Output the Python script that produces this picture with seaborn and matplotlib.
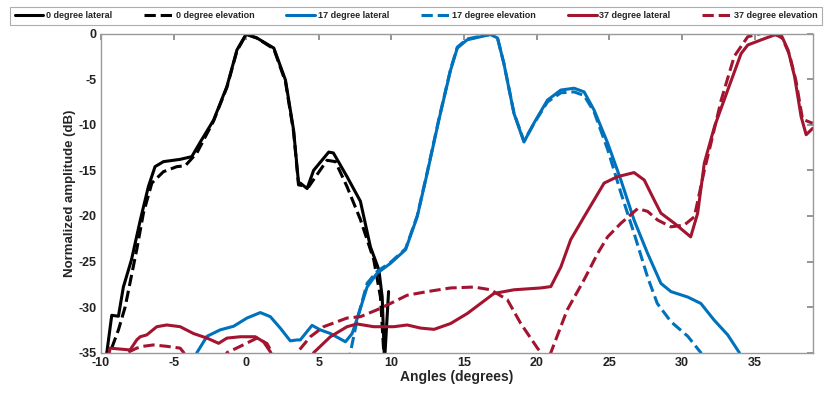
import numpy as np
import pandas as pd
import seaborn as sns
import matplotlib
matplotlib.use("Agg")
import matplotlib.pyplot as plt

# ---- data ----
x0_lat = [-9.7, -9.6, -9.26, -8.8, -8.46, -7.9, -7.3, -6.74, -6.28, -5.7, -4.55, -3.75, -3.2, -2.25, -1.33, -0.64, 0.0, 0.74, 1.9, 2.7, 3.26, 3.6, 3.72, 4.19, 4.64, 5.68, 6.0, 6.94, 7.86, 8.55, 9.13, 9.36, 9.52, 9.8]
y0_lat = [-38, -35, -30.9, -31.0, -27.8, -24.8, -20.5, -16.8, -14.6, -14.05, -13.8, -13.5, -12.0, -9.5, -5.8, -1.8, -0.05, -0.5, -1.6, -5.1, -10.6, -16.4, -16.4, -17.0, -15.0, -13.0, -13.1, -15.7, -18.4, -23.4, -25.9, -28.9, -36.0, -28.3]

x0_ele = [-9.6, -9.38, -8.8, -8.34, -7.54, -7.08, -6.5, -5.7, -4.78, -4.2, -3.4, -2.25, -1.33, -0.64, 0.0, 0.74, 1.9, 2.7, 3.26, 3.6, 4.3, 5.56, 6.14, 6.94, 7.86, 8.78, 9.24, 9.47, 9.6]
y0_ele = [-38, -35, -32.5, -30.0, -23.7, -19.7, -16.4, -15.15, -14.6, -14.5, -13.1, -9.6, -5.9, -1.9, -0.1, -0.5, -1.7, -5.3, -10.8, -16.6, -16.8, -13.9, -14.05, -16.8, -20.4, -24.8, -28.9, -35.0, -38]

x17_lat = [-3.8, -3.4, -2.7, -1.8, -0.87, 0.05, 0.97, 1.66, 2.34, 3.03, 3.5, 3.72, 4.53, 5.1, 5.8, 6.83, 7.29, 7.75, 8.32, 9.0, 9.93, 10.97, 11.77, 12.46, 13.26, 14.07, 14.53, 15.2, 16.14, 16.83, 17.3, 17.74, 18.43, 19.12, 19.8, 20.74, 21.66, 22.57, 23.26, 23.95, 24.88, 25.8, 26.7, 27.63, 28.55, 29.24, 30.4, 31.3, 32.2, 33.15, 33.95, 34.3]
y17_lat = [-37, -35, -33.2, -32.5, -32.1, -31.2, -30.6, -31.05, -32.3, -33.7, -33.6, -33.6, -32.0, -32.5, -32.9, -33.8, -32.9, -30.7, -27.8, -26.3, -25.2, -23.7, -20.1, -15.3, -9.5, -4.0, -1.6, -0.7, -0.35, -0.1, -0.5, -3.3, -8.75, -11.9, -9.85, -7.3, -6.2, -6.0, -6.4, -8.4, -12.0, -16.1, -20.45, -24.1, -27.4, -28.3, -28.9, -29.6, -31.4, -33.05, -35.0, -37]

x17_ele = [6.9, 7.17, 7.63, 8.32, 9.0, 9.93, 10.97, 11.77, 12.46, 13.26, 14.07, 14.53, 15.2, 16.14, 16.83, 17.3, 17.74, 18.43, 19.12, 19.8, 20.74, 21.66, 22.57, 23.26, 23.95, 24.88, 25.8, 26.7, 27.63, 28.3, 29.24, 30.4, 31.3, 31.6]
y17_ele = [-38, -35, -31.4, -27.4, -26.1, -25.1, -23.6, -20.0, -15.2, -9.4, -3.9, -1.5, -0.6, -0.3, -0.1, -0.5, -3.3, -8.7, -11.8, -9.9, -7.5, -6.5, -6.4, -6.8, -8.6, -12.7, -17.5, -21.9, -26.7, -29.6, -31.6, -33.2, -35.0, -37]

x37_lat = [-9.6, -9.38, -8.0, -7.54, -7.3, -6.85, -6.16, -5.47, -4.55, -3.63, -2.7, -1.9, -1.33, -0.41, 0.62, 1.19, 1.66, 2.0, 4.3, 4.64, 5.79, 6.94, 7.63, 8.78, 10.16, 11.08, 12.0, 12.93, 14.07, 15.22, 16.14, 17.06, 18.44, 20.28, 20.97, 21.66, 22.34, 23.26, 24.64, 25.56, 26.7, 27.4, 28.1, 28.55, 29.47, 30.6, 31.08, 31.54, 32.24, 33.15, 34.07, 34.53, 35.45, 36.37, 36.83, 37.3, 37.75, 38.2, 38.55, 39.0]
y37_lat = [-37, -34.5, -34.7, -33.6, -33.25, -33.05, -32.15, -31.96, -32.15, -32.9, -33.4, -33.97, -33.4, -33.25, -33.25, -33.8, -34.9, -36.5, -36.5, -35.0, -33.25, -32.15, -31.85, -32.15, -32.15, -31.96, -32.3, -32.44, -31.8, -30.7, -29.6, -28.5, -28.1, -27.9, -27.75, -25.6, -22.6, -20.1, -16.4, -15.7, -15.25, -16.06, -18.3, -19.7, -20.8, -22.3, -19.7, -14.2, -10.2, -6.2, -2.2, -1.26, -0.7, -0.16, -0.16, -1.8, -4.7, -9.1, -11.1, -10.4]

x37_ele = [-8.6, -8.2, -7.54, -7.1, -6.4, -5.47, -4.55, -4.3, -4.0, -1.6, -1.33, -0.41, 0.74, 1.43, 1.77, 2.1, 3.2, 3.5, 4.41, 5.33, 6.94, 7.86, 9.0, 9.93, 11.08, 12.46, 14.07, 15.68, 16.83, 17.98, 18.9, 20.05, 20.3, 20.6, 20.97, 22.1, 23.26, 24.2, 24.88, 25.8, 26.95, 27.63, 28.32, 29.24, 30.16, 30.85, 31.54, 32.0, 32.7, 33.6, 34.53, 35.45, 36.37, 36.9, 37.4, 37.85, 38.3, 39.0]
y37_ele = [-36.5, -35.0, -34.5, -34.3, -34.15, -34.3, -34.5, -35.0, -36.5, -36.5, -35.0, -34.3, -33.4, -34.0, -35.0, -36.5, -36.5, -35.0, -33.25, -32.15, -31.2, -31.05, -30.3, -29.6, -28.7, -28.3, -27.9, -27.8, -28.1, -29.2, -31.8, -34.5, -35.0, -36.0, -35.0, -30.3, -27.0, -24.1, -22.3, -20.8, -19.2, -19.5, -20.45, -21.2, -21.0, -20.1, -15.0, -12.0, -7.3, -2.5, -0.35, 0.0, -0.05, -0.5, -2.3, -5.2, -9.4, -9.85]

series = [
    ("0 degree lateral", x0_lat, y0_lat, "black", "-"),
    ("0 degree elevation", x0_ele, y0_ele, "black", "--"),
    ("17 degree lateral", x17_lat, y17_lat, "#0072BD", "-"),
    ("17 degree elevation", x17_ele, y17_ele, "#0072BD", "--"),
    ("37 degree lateral", x37_lat, y37_lat, "#A2142F", "-"),
    ("37 degree elevation", x37_ele, y37_ele, "#A2142F", "--"),
]

x_ticks = [-10, -5, 0, 5, 10, 15, 20, 25, 30, 35]
y_ticks = [0, -5, -10, -15, -20, -25, -30, -35]

# ---- plotting ----
sns.set_theme(style="white")
plt.rcParams["font.family"] = ["Liberation Sans", "DejaVu Sans"]

fig = plt.figure(figsize=(8.32, 3.93), dpi=100)
ax = fig.add_axes([101/832, 1 - 352.7/393, (812.7 - 101)/832, (352.7 - 33.5)/393])

for label, xs, ys, col, ls in series:
    sns.lineplot(x=xs, y=ys, ax=ax, color=col, linestyle=ls, linewidth=2.2,
                 label=label, sort=False, estimator=None)

ax.set_xlim(-10, 39)
ax.set_ylim(-35, 0)
ax.set_xticks(x_ticks)
ax.set_yticks(y_ticks)
ax.set_xticklabels([str(t) for t in x_ticks], fontsize=9, fontweight="bold")
ax.set_yticklabels([str(t) for t in y_ticks], fontsize=9, fontweight="bold")
ax.tick_params(direction="in", length=4, color="#888888", top=True, right=True,
               labelcolor="#222222", pad=3)
for s in ax.spines.values():
    s.set_color("#999999")
    s.set_linewidth(1.0)
ax.set_xlabel("Angles (degrees)", fontsize=10, fontweight="bold", labelpad=1)
ax.set_ylabel("Normalized amplitude (dB)", fontsize=9.5, fontweight="bold", labelpad=2)

handles, labels = ax.get_legend_handles_labels()
ax.get_legend().remove()
leg = fig.legend(handles, labels, ncol=6, loc="lower left", mode="expand",
                 bbox_to_anchor=(10/832, 1 - 25/393, 812/832, 23/393),
                 frameon=True, fancybox=False, edgecolor="#999999",
                 prop={"size": 6.5, "weight": "bold"}, handlelength=3.2,
                 handletextpad=0.3, borderaxespad=0.0, borderpad=0.5)
leg.get_frame().set_linewidth(0.8)

fig.savefig("out.png", dpi=100)
